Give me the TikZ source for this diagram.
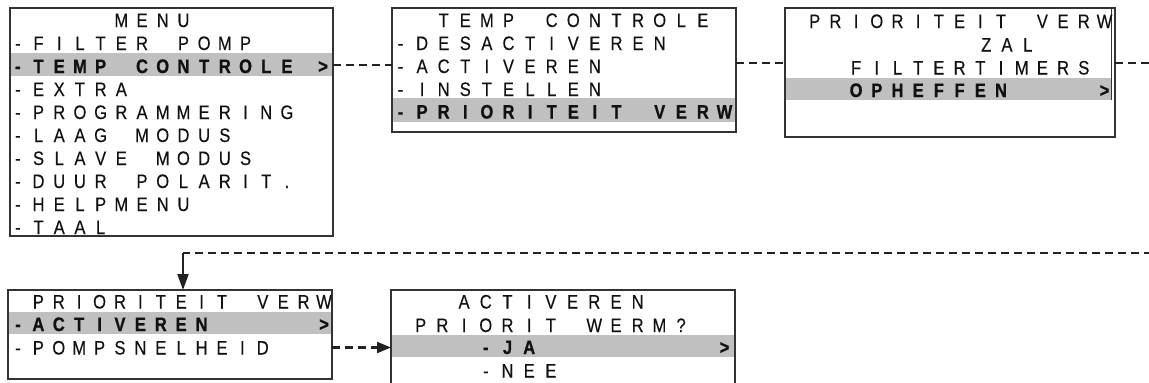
\documentclass[tikz,border=0pt]{standalone}
\usepackage{fontspec}
\usetikzlibrary{arrows.meta}
\newfontfamily\lcdfont[FakeStretch=0.85,UprightFeatures={FakeBold=0.3},BoldFeatures={FakeBold=0.8}]{Liberation Sans}
\definecolor{hl}{HTML}{C0C0C0}
\definecolor{ink}{HTML}{111111}
\definecolor{frame}{HTML}{333333}
\definecolor{conncol}{HTML}{222222}
\newlength\lcdcw
\def\lcdstop{\relax}
\def\lcdtext#1#2{\setlength\lcdcw{#1}\lcdscan#2\lcdstop}
\def\lcdscan#1{\ifx#1\lcdstop\else\makebox[\lcdcw][c]{\lcdchar#1}\expandafter\lcdscan\fi}
\def\lcdchar#1{\ifx#1*\else#1\fi}
\begin{document}
\begin{tikzpicture}[x=1pt,y=-1pt,
  frm/.style={draw=frame,line width=1.3pt,inner sep=0pt,outer sep=0pt,rectangle},
  lcd/.style={font=\lcdfont\fontsize{19.5}{19.5}\selectfont,text=ink,inner sep=0pt,outer sep=0pt,text height=14pt,text depth=0pt,anchor=west},
  lcdb/.style={lcd,font=\lcdfont\bfseries\fontsize{19.5}{19.5}\selectfont},
  conn/.style={draw=conncol,line width=2.2pt,dash pattern=on 8pt off 5pt},
  arrv/.style={draw=conncol,fill=conncol,line width=2.2pt,-{Triangle[length=16pt,width=11pt]}},
  arrh/.style={conn,-{Triangle[length=14pt,width=11pt]}}]
\useasboundingbox (0,0) rectangle (1149,383);
\clip (0,0) rectangle (1149,383);
% highlight bars
\fill[hl] (10,53) rectangle (333,76);
\fill[hl] (392,98) rectangle (736,122);
\fill[hl] (785,78) rectangle (1111,100);
\fill[hl] (8,312) rectangle (332,334);
\fill[hl] (391,335) rectangle (735,357);
% frames
\node[frm,minimum width=323pt,minimum height=228pt] (b1) at (171.5,122) {};
\node[frm,minimum width=344pt,minimum height=124pt] (b2) at (564,70) {};
\node[frm,minimum width=330pt,minimum height=129pt] (b3) at (950,72.5) {};
\node[frm,minimum width=324pt,minimum height=89pt] (b4) at (170,334.5) {};
\node[frm,minimum width=344pt,minimum height=110pt] (b5) at (563,345) {};
\draw[frame,line width=1pt] (1111,8) -- (1111,100);
% box 1
\node[lcd]  (m0) at (7.5,20)  {\lcdtext{20.7pt}{*****MENU}};
\node[lcd]  (m1) at (7.5,43)  {\lcdtext{20.7pt}{-FILTER*POMP}};
\node[lcdb] (m2) at (7.5,66)  {\lcdtext{20.7pt}{-TEMP*CONTROLE}};
\node[lcdb,anchor=center] (m2g) at (323,66) {>};
\node[lcd]  (m3) at (7.5,89)  {\lcdtext{20.7pt}{-EXTRA}};
\node[lcd]  (m4) at (7.5,112) {\lcdtext{20.7pt}{-PROGRAMMERING}};
\node[lcd]  (m5) at (7.5,135) {\lcdtext{20.7pt}{-LAAG*MODUS}};
\node[lcd]  (m6) at (7.5,158) {\lcdtext{20.7pt}{-SLAVE*MODUS}};
\node[lcd]  (m7) at (7.5,181) {\lcdtext{20.7pt}{-DUUR*POLARIT.}};
\node[lcd]  (m8) at (7.5,204) {\lcdtext{20.7pt}{-HELPMENU}};
\node[lcd]  (m9) at (7.5,227) {\lcdtext{20.7pt}{-TAAL}};
% box 2
\node[lcd]  (t0) at (389.7,20)  {\lcdtext{21.6pt}{**TEMP*CONTROLE}};
\node[lcd]  (t1) at (389.7,43)  {\lcdtext{21.6pt}{-DESACTIVEREN}};
\node[lcd]  (t2) at (389.7,66)  {\lcdtext{21.6pt}{-ACTIVEREN}};
\node[lcd]  (t3) at (389.7,89)  {\lcdtext{21.6pt}{-INSTELLEN}};
\node[lcdb] (t4) at (389.7,111.5) {\lcdtext{21.6pt}{-PRIORITEIT*VERW}};
% box 3
\node[lcd]  (p0) at (783.65,21)   {\lcdtext{20.7pt}{*PRIORITEIT*VERW}};
\node[lcd]  (p1) at (789.65,44.5) {\lcdtext{20.7pt}{*********ZAL}};
\node[lcd]  (p2) at (783.65,67.5) {\lcdtext{20.7pt}{***FILTERTIMERS}};
\node[lcdb] (p3) at (783.65,90)   {\lcdtext{20.7pt}{***OPHEFFEN****>}};
% box 4
\node[lcd]  (q0) at (7.8,301.5) {\lcdtext{20.4pt}{*PRIORITEIT*VERW}};
\node[lcdb] (q1) at (7.8,324)   {\lcdtext{20.4pt}{-ACTIVEREN*****>}};
\node[lcd]  (q2) at (7.8,347.5) {\lcdtext{20.4pt}{-POMPSNELHEID}};
% box 5
\node[lcd]  (r0) at (388.15,301.5) {\lcdtext{21.7pt}{***ACTIVEREN}};
\node[lcd]  (r1) at (388.15,325)   {\lcdtext{21.7pt}{*PRIORIT*WERM?}};
\node[lcdb] (r2) at (388.15,347)   {\lcdtext{21.7pt}{****-JA********>}};
\node[lcd]  (r3) at (388.15,370.5) {\lcdtext{21.7pt}{****-NEE}};
% connectors
\coordinate (j0) at (360,65);
\coordinate (j1) at (760,63);
\coordinate (e1) at (1175,63);
\coordinate (e2) at (1175,253);
\coordinate (k)  at (183,253);
\draw[conn] (b1.east |- j0) -- (b2.west |- j0);
\draw[conn] (b2.east |- j1) -- (b3.west |- j1);
\draw[conn] (b3.east |- j1) -- (e1) -- (e2) -- (k);
\draw[arrv] (k) -- (k |- b4.north);
\draw[arrh] (b4.east |- q2) -- (b5.west |- q2);
\end{tikzpicture}
\end{document}
